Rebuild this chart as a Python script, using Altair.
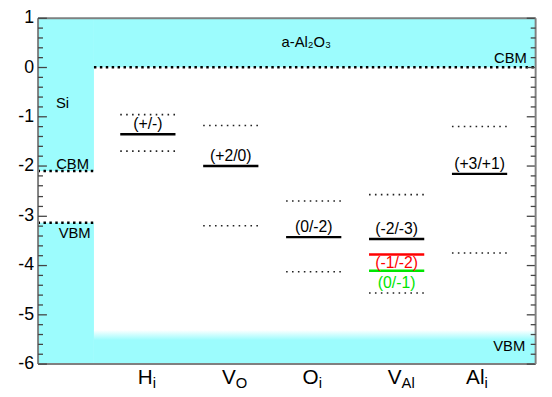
import altair as alt
import pandas as pd

# ---------------- data ----------------
defect_base = ["H", "V", "O", "V", "Al"]
defect_sub = ["i", "O", "i", "Al", "i"]
defect_idx = [1, 2, 3, 4, 5]

trans_defect = [1, 2, 3, 4, 4, 4, 5]
trans_energy = [-1.36, -2.00, -3.44, -3.48, -3.79, -4.12, -2.16]
trans_label = ["(+/-)", "(+2/0)", "(0/-2)", "(-2/-3)", "(-1/-2)", "(0/-1)", "(+3/+1)"]
trans_color = ["black", "black", "black", "black", "#ff0000", "#00e600", "black"]
trans_side = ["above", "above", "above", "above", "below", "below_far", "above"]

ks_defect = [1, 1, 2, 2, 3, 3, 4, 4, 5, 5]
ks_energy = [-0.96, -1.70, -1.18, -3.21, -2.71, -4.14, -2.58, -4.57, -1.20, -3.76]

al2o3_cbm = 0.0
al2o3_vbm = -5.32
si_cbm = -2.10
si_vbm = -3.15

y_major = [-6, -5, -4, -3, -2, -1, 0, 1]
y_minor = [round(-6 + 0.2 * k, 1) for k in range(36) if k % 5 != 0]

band_text_c = ["Si", "a-Al\u2082O\u2083"]
band_text_c_x = [-0.03, 2.91]
band_text_c_y = [-0.83, 0.41]
band_text_r = ["CBM", "VBM", "CBM", "VBM"]
band_text_r_x = [0.29, 0.31, 5.57, 5.55]
band_text_r_y = [-2.07, -3.46, 0.08, -5.74]

# ---------------- layout ----------------
X_MIN, SI_EDGE, X_MAX = -0.33, 0.35, 5.67
Y_MIN, Y_MAX = -6, 1
HALF = 0.333
W, H = 505, 351
CYAN = "#9cfcfd"
FONT = "Liberation Sans"
AXC = "#808080"
TICKC = "#444444"

xs = alt.Scale(domain=[X_MIN, X_MAX], nice=False, zero=False)
ys = alt.Scale(domain=[Y_MIN, Y_MAX], nice=False, zero=False)

bands = pd.DataFrame({
    "x": [X_MIN, X_MIN, SI_EDGE],
    "x2": [SI_EDGE, SI_EDGE, X_MAX],
    "y": [si_cbm, Y_MIN, al2o3_cbm],
    "y2": [Y_MAX, si_vbm, Y_MAX],
})
grad = pd.DataFrame({"x": [SI_EDGE], "x2": [X_MAX], "y": [Y_MIN], "y2": [al2o3_vbm]})
edges = pd.DataFrame({
    "x": [X_MIN, X_MIN, SI_EDGE],
    "x2": [SI_EDGE, SI_EDGE, X_MAX],
    "y": [si_cbm, si_vbm, al2o3_cbm],
})
trans = pd.DataFrame({"d": trans_defect, "e": trans_energy, "lab": trans_label,
                      "col": trans_color, "side": trans_side})
ks = pd.DataFrame({"d": ks_defect, "e": ks_energy})
labels = pd.DataFrame({"d": defect_idx, "base": defect_base, "sub": defect_sub})
btc = pd.DataFrame({"t": band_text_c, "x": band_text_c_x, "y": band_text_c_y})
btr = pd.DataFrame({"t": band_text_r, "x": band_text_r_x, "y": band_text_r_y})


def tick_axis(orient, values, size, domain=False):
    return alt.Axis(orient=orient, offset=-W, values=values, tickSize=size,
                    tickColor=TICKC, tickWidth=1.3, labels=False, domain=domain,
                    domainColor=AXC, domainWidth=2,
                    grid=False, title=None, zindex=2)


no_ax = None

l_bands = alt.Chart(bands).mark_rect(color=CYAN).encode(
    x=alt.X("x:Q", scale=xs, axis=alt.Axis(orient="bottom", labels=False, ticks=False,
                                           domainColor=AXC, domainWidth=2, grid=False,
                                           title=None, zindex=2)),
    x2="x2:Q",
    y=alt.Y("y:Q", scale=ys, axis=alt.Axis(orient="left", values=y_major, ticks=False,
                                           labelFontSize=18, labelFont=FONT,
                                           labelColor="black", labelPadding=4,
                                           labelExpr="datum.value < 0 ? '-' + abs(datum.value) : '' + datum.value",
                                           domainColor=AXC, domainWidth=2, grid=False,
                                           title=None, zindex=2)),
    y2="y2:Q",
)

l_grad = alt.Chart(grad).mark_rect(
    color=alt.Gradient(gradient="linear",
                       stops=[alt.GradientStop(color="white", offset=0),
                              alt.GradientStop(color=CYAN, offset=0.3),
                              alt.GradientStop(color=CYAN, offset=1)],
                       x1=0, x2=0, y1=0, y2=1)
).encode(
    x=alt.X("x:Q", scale=xs, axis=alt.Axis(orient="top", labels=False, ticks=False,
                                           domainColor=AXC, domainWidth=2, grid=False,
                                           title=None, zindex=2)),
    x2="x2:Q",
    y=alt.Y("y:Q", scale=ys, axis=tick_axis("right", y_major, 9)),
    y2="y2:Q",
)

l_edges = alt.Chart(edges).mark_rule(color="black", strokeWidth=2.5,
                                     strokeDash=[2.5, 3.5]).encode(
    x=alt.X("x:Q", scale=xs, axis=no_ax),
    x2="x2:Q",
    y=alt.Y("y:Q", scale=ys, axis=tick_axis("right", y_minor, 5)),
)

l_ks = alt.Chart(ks).transform_calculate(
    x0=f"datum.d - {HALF}", x1=f"datum.d + {HALF}"
).mark_rule(color="#222222", strokeWidth=1.6, strokeDash=[1.6, 4.4]).encode(
    x=alt.X("x0:Q", scale=xs, axis=no_ax),
    x2="x1:Q",
    y=alt.Y("e:Q", scale=ys, axis=tick_axis("left", y_major, 9, domain=True)),
)

l_trans = alt.Chart(trans).transform_calculate(
    x0=f"datum.d - {HALF}", x1=f"datum.d + {HALF}"
).mark_rule(strokeWidth=2.5).encode(
    x=alt.X("x0:Q", scale=xs, axis=no_ax),
    x2="x1:Q",
    y=alt.Y("e:Q", scale=ys, axis=tick_axis("left", y_minor, 5)),
    color=alt.Color("col:N", scale=None),
)


def level_text(side, dy):
    return alt.Chart(trans).transform_filter(f"datum.side == '{side}'").mark_text(
        font=FONT, fontSize=16, dy=dy, baseline="alphabetic", align="center"
    ).encode(
        x=alt.X("d:Q", scale=xs, axis=no_ax),
        y=alt.Y("e:Q", scale=ys, axis=no_ax),
        text="lab:N",
        color=alt.Color("col:N", scale=None),
    )


l_tabove = level_text("above", -5)
l_tbelow = level_text("below", 14)
l_tbelow2 = level_text("below_far", 18)

l_base = alt.Chart(labels).mark_text(
    font=FONT, fontSize=21, dy=21, dx=5, baseline="alphabetic", align="right", color="black"
).encode(
    x=alt.X("d:Q", scale=xs, axis=no_ax),
    y=alt.Y("y:Q", scale=ys, axis=no_ax),
    text="base:N",
).transform_calculate(y=f"{Y_MIN}")

l_sub = alt.Chart(labels).mark_text(
    font=FONT, fontSize=15, dy=25, dx=5, baseline="alphabetic", align="left", color="black"
).encode(
    x=alt.X("d:Q", scale=xs, axis=no_ax),
    y=alt.Y("y:Q", scale=ys, axis=no_ax),
    text="sub:N",
).transform_calculate(y=f"{Y_MIN}")

l_btc = alt.Chart(btc).mark_text(
    font=FONT, fontSize=15, baseline="alphabetic", align="center", color="black"
).encode(
    x=alt.X("x:Q", scale=xs, axis=no_ax),
    y=alt.Y("y:Q", scale=ys, axis=no_ax),
    text="t:N",
)

l_btr = alt.Chart(btr).mark_text(
    font=FONT, fontSize=15, baseline="alphabetic", align="right", color="black"
).encode(
    x=alt.X("x:Q", scale=xs, axis=no_ax),
    y=alt.Y("y:Q", scale=ys, axis=no_ax),
    text="t:N",
)

chart = alt.layer(
    l_bands, l_grad, l_edges, l_ks, l_trans, l_tabove, l_tbelow, l_tbelow2,
    l_base, l_sub, l_btc, l_btr
).resolve_axis(x="independent", y="independent").properties(
    width=W, height=H,
    autosize=alt.AutoSizeParams(type="none"),
    padding={"left": 30, "top": 7, "right": 9, "bottom": 31},
).configure_view(stroke=None)

chart.save("out.html", embed_options={"renderer": "svg", "actions": False})
